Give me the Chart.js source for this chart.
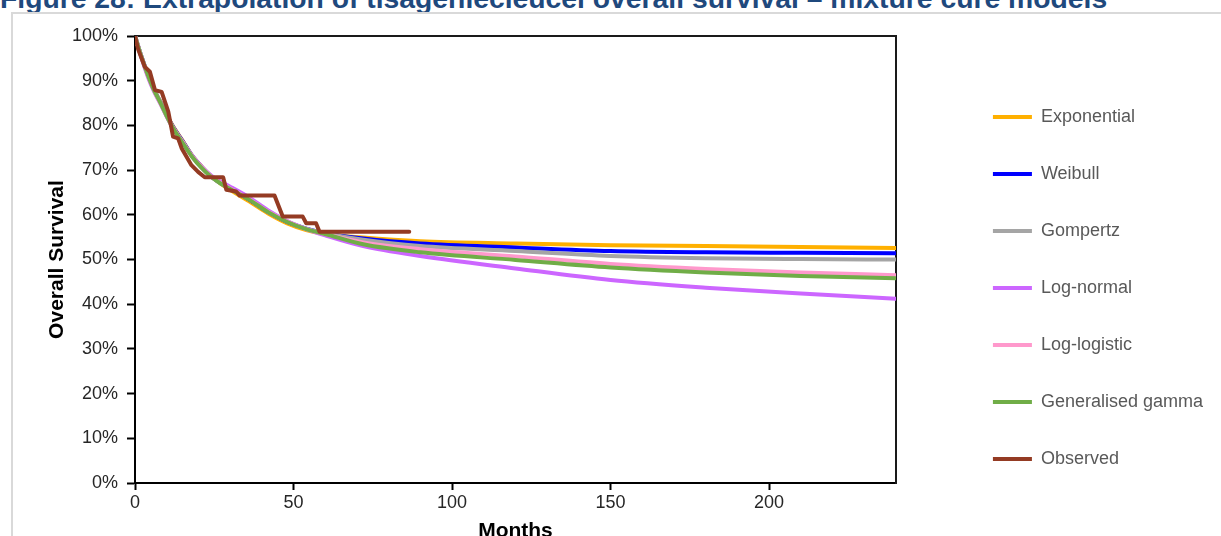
<!DOCTYPE html>
<html>
<head>
<meta charset="utf-8">
<script src="https://cdn.jsdelivr.net/npm/chart.js@4.4.1/dist/chart.umd.min.js"></script>
<style>
  html, body { margin: 0; padding: 0; background: #fff; overflow: hidden; }
  body { width: 1221px; height: 536px; position: relative; font-family: 'Liberation Sans', Arial, sans-serif; }
  #title { position: absolute; left: 0; top: -16px; font-size: 28.3px; line-height: 28px; font-weight: bold; color: #1F497D; white-space: nowrap; }
  #frame { position: absolute; left: 11px; top: 12px; width: 1300px; height: 600px; border: 2px solid #d9d9d9; box-sizing: border-box; }
  #wrap { position: absolute; left: 0; top: 0; width: 1221px; height: 560px; }
</style>
</head>
<body>
<div id="title">Figure 28: Extrapolation of tisagenlecleucel overall survival – mixture cure models</div>
<div id="frame"></div>
<div id="wrap"><canvas id="myChart" width="1221" height="560"></canvas></div>
<script>
// model time grid (months) and survival (%)
const months = [0, 2, 4, 6, 8, 10, 12, 15, 18, 21, 24, 27, 30, 36, 42, 48, 54, 60, 72, 90, 120, 150, 180, 210, 240];
const exponential = [100, 95.4, 91.4, 88.0, 85.3, 82.4, 79.8, 76.6, 73.3, 70.8, 68.6, 67.0, 65.6, 63.0, 60.3, 58.1, 56.6, 55.7, 54.9, 54.1, 53.6, 53.2, 53.0, 52.8, 52.6];
const weibull = [100, 95.5, 91.5, 88.0, 85.2, 82.3, 79.7, 76.5, 73.2, 70.7, 68.6, 67.1, 65.9, 63.4, 60.6, 58.4, 56.9, 55.9, 54.7, 53.6, 52.7, 51.9, 51.6, 51.5, 51.4];
const gompertz = [100, 95.5, 91.5, 88.0, 85.2, 82.2, 79.5, 76.3, 73.1, 70.6, 68.6, 67.1, 65.9, 63.5, 60.7, 58.5, 56.9, 55.9, 54.4, 53.0, 51.9, 50.8, 50.3, 50.1, 50.0];
const logNormal = [100, 95.2, 91.0, 87.6, 84.9, 82.0, 79.4, 76.2, 73.2, 70.8, 68.8, 67.4, 66.3, 63.9, 61.0, 58.6, 56.8, 55.4, 53.0, 50.8, 48.0, 45.4, 43.7, 42.4, 41.2];
const logLogistic = [100, 95.4, 91.3, 87.8, 85.0, 82.1, 79.5, 76.3, 73.1, 70.6, 68.6, 67.1, 65.9, 63.5, 60.7, 58.5, 56.8, 55.7, 53.8, 52.3, 50.7, 49.0, 47.9, 47.1, 46.5];
const genGamma = [100, 95.4, 91.4, 87.9, 85.1, 82.1, 79.4, 76.1, 73.0, 70.5, 68.5, 67.0, 65.8, 63.4, 60.6, 58.4, 56.8, 55.7, 53.4, 51.6, 49.9, 48.2, 47.1, 46.3, 45.8];

// observed Kaplan-Meier
const obsMonths = [0, 1, 3.1, 4.7, 6.3, 8.4, 10.5, 12.0, 13.6, 14.7, 17.8, 19.9, 22.0, 27.8, 28.8, 31.9, 33.0, 44.0, 46.6, 52.9, 54.0, 57.1, 58.2, 86.5];
const observed = [100, 97, 93.1, 92.0, 87.9, 87.5, 83.1, 77.5, 77.1, 74.9, 71.1, 69.6, 68.4, 68.4, 65.6, 65.2, 64.3, 64.3, 59.6, 59.6, 58.1, 58.1, 56.2, 56.2];

const xTicks = [0, 50, 100, 150, 200];
const yTicks = [0, 10, 20, 30, 40, 50, 60, 70, 80, 90, 100];

const series = [
  ['Exponential', exponential, '#FFB000'],
  ['Weibull', weibull, '#0000FF'],
  ['Gompertz', gompertz, '#A5A5A5'],
  ['Log-normal', logNormal, '#CC66FF'],
  ['Log-logistic', logLogistic, '#FF99CC'],
  ['Generalised gamma', genGamma, '#70AD47'],
];

const toPoints = (xs, ys) => xs.map((x, i) => ({x: x, y: ys[i]}));

const datasets = series.map(([label, vals, color], i) => ({
  label: label,
  data: toPoints(months, vals),
  borderColor: color,
  backgroundColor: color,
  borderWidth: 4,
  borderCapStyle: 'round',
  pointRadius: 0,
  cubicInterpolationMode: 'monotone',
  order: 6 - i
}));
datasets.push({
  label: 'Observed',
  data: toPoints(obsMonths, observed),
  borderColor: '#943B23',
  backgroundColor: '#943B23',
  borderWidth: 4,
  borderCapStyle: 'round',
  borderJoinStyle: 'round',
  pointRadius: 0,
  tension: 0,
  order: 0
});

const font = "'Liberation Sans', Arial, sans-serif";
const ctx = document.getElementById('myChart');

new Chart(ctx, {
  type: 'line',
  data: { datasets: datasets },
  options: {
    responsive: false,
    maintainAspectRatio: false,
    animation: false,
    devicePixelRatio: 1,
    layout: { padding: { left: 0, top: 36, right: 8, bottom: 20 } },
    plugins: {
      tooltip: { enabled: false },
      legend: {
        position: 'right',
        align: 'center',
        maxWidth: 320,
        labels: {
          usePointStyle: true,
          pointStyle: 'line',
          pointStyleWidth: 39,
          boxWidth: 39,
          padding: 39,
          color: '#595959',
          font: { family: font, size: 18 },
          sort: (a, b) => a.datasetIndex - b.datasetIndex
        }
      }
    },
    scales: {
      x: {
        type: 'linear',
        position: 'bottom',
        min: 0,
        max: 240,
        afterBuildTicks: (s) => { s.ticks = xTicks.map(v => ({value: v})); },
        afterFit: (s) => { s.height = 57; },
        grid: { drawOnChartArea: false, drawTicks: true, tickLength: 7, tickWidth: 2, tickColor: '#000' },
        border: { display: true, color: '#000', width: 2 },
        ticks: { padding: 2, color: '#262626', font: { family: font, size: 18 }, maxRotation: 0 },
        title: { display: true, text: 'Months', color: '#000', font: { family: font, size: 21, weight: 'bold' }, padding: { top: 0, bottom: -4 } }
      },
      y: {
        type: 'linear',
        position: 'left',
        min: 0,
        max: 100,
        afterBuildTicks: (s) => { s.ticks = yTicks.map(v => ({value: v})); },
        afterFit: (s) => { s.width = 135; },
        grid: { drawOnChartArea: false, drawTicks: true, tickLength: 8, tickWidth: 2, tickColor: '#000' },
        border: { display: true, color: '#000', width: 2 },
        ticks: { padding: 9, color: '#262626', font: { family: font, size: 18 }, callback: (v) => v + '%' },
        title: { display: true, text: 'Overall Survival', color: '#000', font: { family: font, size: 21, weight: 'bold' }, padding: { top: 45, bottom: 0 } }
      },
      x2: {
        type: 'linear',
        position: 'top',
        min: 0,
        max: 240,
        afterFit: (s) => { s.height = 0; },
        grid: { display: false, drawTicks: false },
        border: { display: true, color: '#1a1a1a', width: 2 },
        ticks: { display: false }
      },
      y2: {
        type: 'linear',
        position: 'right',
        min: 0,
        max: 100,
        afterFit: (s) => { s.width = 58; },
        grid: { display: false, drawTicks: false },
        border: { display: true, color: '#1a1a1a', width: 2 },
        ticks: { display: false }
      }
    }
  }
});
</script>
</body>
</html>
